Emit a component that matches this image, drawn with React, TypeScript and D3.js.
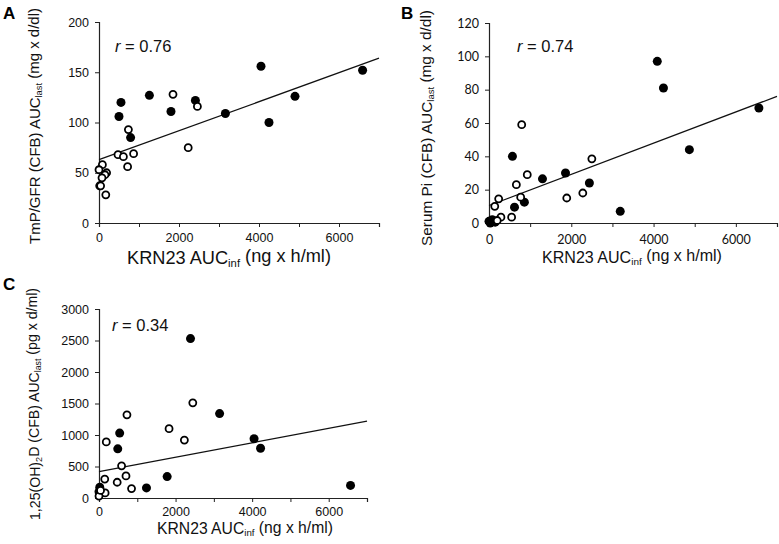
import React, { useEffect, useRef } from 'react';
import * as d3 from 'd3';

// [x (ng x h/ml), y] points, filled = one group, open = the other
const aFilled = [[4050, 156], [4900, 126], [4250, 100], [3160, 109], [2410, 122], [1800, 111], [1260, 127], [550, 120], [500, 106], [790, 85], [6590, 152], [20, 37]];
const aOpen = [[1850, 128], [2460, 116], [2230, 75], [735, 93], [475, 68], [610, 66], [865, 69], [715, 56], [85, 58], [0, 53], [190, 50], [150, 48], [75, 45], [40, 37], [170, 28]];
const aFit = [[0, 63], [7000, 164]];

const bFilled = [[4090, 97], [4240, 81], [6560, 69], [4870, 44], [3190, 7], [2440, 24], [1860, 30], [1300, 26.5], [570, 40], [620, 9.5], [860, 12.5], [80, 2], [0, 1], [30, 0], [150, 0.5]];
const bOpen = [[795, 59], [2500, 38.5], [930, 29], [665, 23], [770, 15.5], [1890, 15], [2280, 18], [235, 14.5], [140, 10], [550, 3.5], [290, 3.5], [200, 1.5]];
const bFit = [[0, 10.5], [7000, 76]];

const cFilled = [[2390, 2530], [3150, 1340], [4050, 940], [4220, 790], [6570, 200], [1780, 340], [1240, 160], [540, 1030], [490, 780], [20, 170], [0, 100]];
const cOpen = [[2450, 1510], [1830, 1100], [2230, 920], [730, 1320], [190, 890], [590, 510], [705, 350], [475, 250], [850, 150], [150, 300], [160, 80], [0, 30], [40, 120]];
const cFit = [[0, 420], [7000, 1220]];

const xTicks = [0, 1000, 2000, 3000, 4000, 5000, 6000, 7000];
const xTickLabels = [0, 2000, 4000, 6000];
const aYTicks = [0, 50, 100, 150, 200];
const bYTicks = [0, 20, 40, 60, 80, 100, 120];
const cYTicks = [0, 500, 1000, 1500, 2000, 2500, 3000];

const ARIAL = '"Liberation Sans", Arial, sans-serif';
const CALIBRI = 'Lato, "Liberation Sans", sans-serif';

interface Panel {
  letter: string;
  letterPos: [number, number];
  xRange: [number, number];
  yRange: [number, number];
  yMax: number;
  yTicks: number[];
  filled: number[][];
  open: number[][];
  fit: number[][];
  r: string;
  rPos: [number, number];
  yTitle: [string, string | null, string, string, string];
  yTitlePos: [number, number, number]; // baseline x, center y, length
  xTitlePos: [number, number, number]; // center x, baseline y, length
  tickFont: string;
  xPad: number;
}

const panels: Panel[] = [
  {
    letter: 'A', letterPos: [3, 19], xRange: [99, 379], yRange: [223, 22], yMax: 200, yTicks: aYTicks,
    filled: aFilled, open: aOpen, fit: aFit, r: '0.76', rPos: [115, 52],
    yTitle: ['TmP/GFR (CFB) AUC', null, '', 'last', ' (mg x d/dl)'], yTitlePos: [40, 126, 236],
    xTitlePos: [229, 264, 204], tickFont: ARIAL, xPad: 6,
  },
  {
    letter: 'B', letterPos: [401, 19], xRange: [489, 777], yRange: [223, 23], yMax: 120, yTicks: bYTicks,
    filled: bFilled, open: bOpen, fit: bFit, r: '0.74', rPos: [517, 52],
    yTitle: ['Serum Pi (CFB) AUC', null, '', 'last', ' (mg x d/dl)'], yTitlePos: [432, 128, 236],
    xTitlePos: [632, 263, 180], tickFont: CALIBRI, xPad: 8,
  },
  {
    letter: 'C', letterPos: [3, 290], xRange: [99, 367], yRange: [498, 309], yMax: 3000, yTicks: cYTicks,
    filled: cFilled, open: cOpen, fit: cFit, r: '0.34', rPos: [112, 331],
    yTitle: ['1,25(OH)', '2', 'D (CFB) AUC', 'last', ' (pg x d/ml)'], yTitlePos: [40, 404, 232],
    xTitlePos: [245, 534, 176], tickFont: ARIAL, xPad: 5,
  },
];

// scale a text's font size so it spans the wanted length
function fitLength(sel: d3.Selection<SVGTextElement, unknown, null, undefined>, base: number, len: number) {
  const node = sel.node();
  if (!node) return;
  const w = node.getBBox().width;
  if (w > 0) sel.style('font-size', `${(base * len) / w}px`);
}

export default function App() {
  const svgRef = useRef<SVGSVGElement>(null);

  useEffect(() => {
    if (!svgRef.current) return;
    const svg = d3.select(svgRef.current);
    svg.selectAll('*').remove();

    panels.forEach(p => {
      const x = d3.scaleLinear().domain([0, 7000]).range(p.xRange);
      const y = d3.scaleLinear().domain([0, p.yMax]).range(p.yRange);
      const g = svg.append('g');

      // axes
      const yAxis = g.append('g')
        .attr('transform', `translate(${p.xRange[0]},0)`)
        .call(d3.axisLeft(y).tickValues(p.yTicks).tickSize(4).tickPadding(6).tickFormat(d3.format('d')));
      const xAxis = g.append('g')
        .attr('transform', `translate(0,${p.yRange[0]})`)
        .call(d3.axisBottom(x).tickValues(xTicks).tickSize(4).tickPadding(p.xPad)
          .tickFormat(d => (xTickLabels.includes(+d) ? String(d) : '')));
      [xAxis, yAxis].forEach(a => {
        a.select('.domain').attr('stroke', '#222').attr('stroke-width', 1.2);
        a.selectAll('.tick line').attr('stroke', '#222');
        a.selectAll('text')
          .attr('fill', '#111')
          .style('font-family', p.tickFont)
          .style('font-size', '12.5px');
      });

      // regression line
      g.append('path')
        .attr('d', d3.line()(p.fit.map(d => [x(d[0]), y(d[1])] as [number, number])))
        .attr('stroke', '#111')
        .attr('stroke-width', 1.2)
        .attr('fill', 'none');

      g.selectAll('.filled')
        .data(p.filled)
        .enter()
        .append('circle')
        .attr('cx', d => x(d[0]))
        .attr('cy', d => y(d[1]))
        .attr('r', 4.5)
        .attr('fill', '#000');

      g.selectAll('.open')
        .data(p.open)
        .enter()
        .append('circle')
        .attr('cx', d => x(d[0]))
        .attr('cy', d => y(d[1]))
        .attr('r', 3.5)
        .attr('fill', '#fff')
        .attr('stroke', '#000')
        .attr('stroke-width', 1.8);

      // r label
      const rt = g.append('text')
        .attr('x', p.rPos[0])
        .attr('y', p.rPos[1])
        .attr('fill', '#111')
        .style('font-family', ARIAL)
        .style('font-size', '16.5px');
      rt.append('tspan').style('font-style', 'italic').text('r');
      rt.append('tspan').text(' = ' + p.r);

      // y title
      const yt = g.append('text')
        .attr('transform', `translate(${p.yTitlePos[0]},${p.yTitlePos[1]}) rotate(-90)`)
        .attr('text-anchor', 'middle')
        .attr('fill', '#111')
        .style('font-family', ARIAL)
        .style('font-size', '16px');
      const [t1, sub1, t2, sub2, t3] = p.yTitle;
      yt.append('tspan').text(t1);
      if (sub1) {
        yt.append('tspan').attr('dy', '0.25em').style('font-size', '0.65em').text(sub1);
        yt.append('tspan').attr('dy', '-0.25em').text(t2);
      }
      yt.append('tspan').attr('dy', '0.25em').style('font-size', '0.62em').text(sub2);
      yt.append('tspan').attr('dy', '-0.25em').text(t3);
      fitLength(yt, 16, p.yTitlePos[2]);

      // x title
      const xt = g.append('text')
        .attr('x', p.xTitlePos[0])
        .attr('y', p.xTitlePos[1])
        .attr('text-anchor', 'middle')
        .attr('fill', '#111')
        .style('font-family', ARIAL)
        .style('font-size', '16px');
      xt.append('tspan').text('KRN23 AUC');
      xt.append('tspan').attr('dy', '0.25em').style('font-size', '0.62em').text('inf');
      xt.append('tspan').attr('dy', '-0.25em').text(' (ng x h/ml)');
      fitLength(xt, 16, p.xTitlePos[2]);

      // panel letter
      g.append('text')
        .attr('x', p.letterPos[0])
        .attr('y', p.letterPos[1])
        .attr('fill', '#000')
        .style('font-family', ARIAL)
        .style('font-weight', 'bold')
        .style('font-size', '17px')
        .text(p.letter);
    });
  }, []);

  return (
    <svg ref={svgRef} width={779} height={544}
      style={{ position: 'absolute', left: 0, top: 0, background: '#fff' }} />
  );
}
